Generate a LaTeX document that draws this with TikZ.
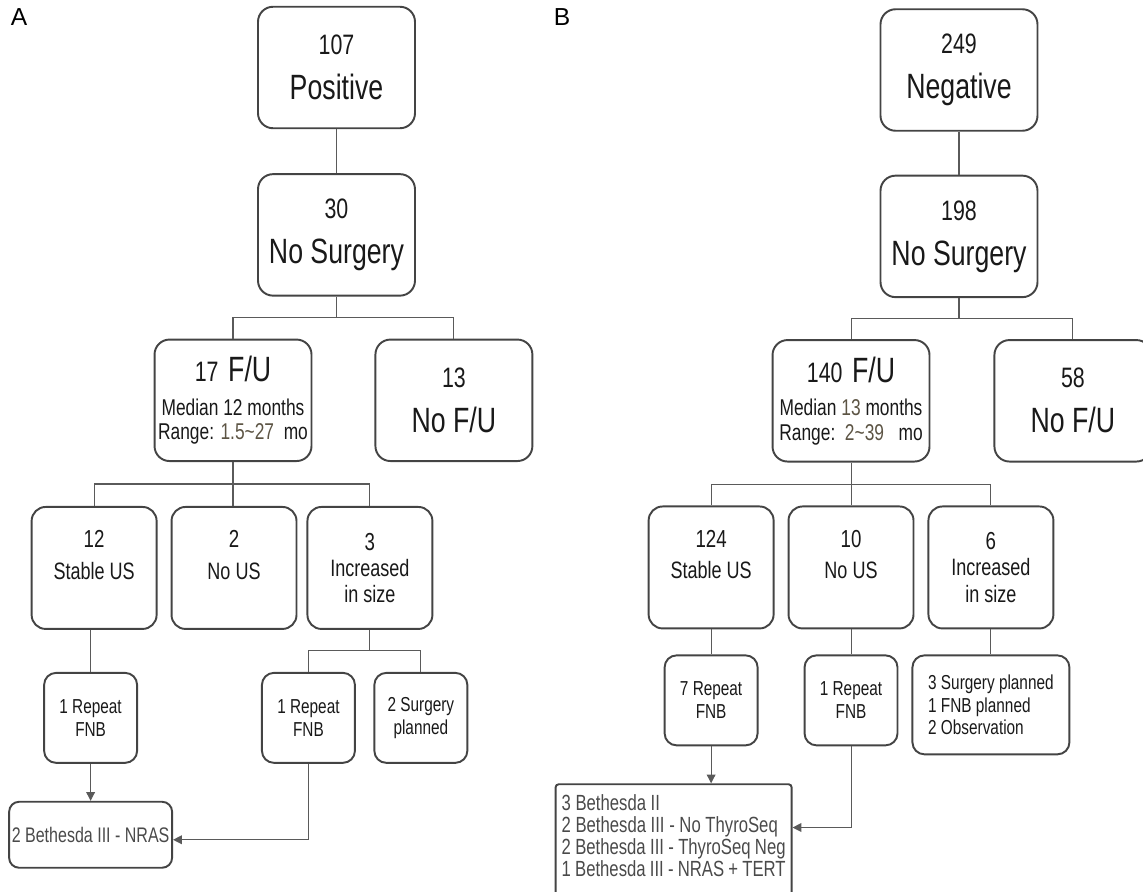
\documentclass[tikz,border=0pt]{standalone}
\usepackage{fontspec}
\setmainfont{Liberation Sans}[FakeStretch=0.76]
\newfontfamily\panelfont{Liberation Sans}
\usetikzlibrary{positioning,arrows.meta}

\definecolor{boxline}{HTML}{444444}
\definecolor{linkgray}{HTML}{5A5A5A}
\definecolor{rangetxt}{HTML}{5C5444}
\definecolor{bethtxt}{HTML}{4A4A4A}

\newcommand{\hugefs}{\fontsize{20}{25.6}\selectfont}
\newcommand{\numfs}{\fontsize{16}{25.6}\selectfont}
\newcommand{\midfs}{\fontsize{13}{14}\selectfont}
\newcommand{\rowfs}{\fontsize{13.5}{15}\selectfont}
\newcommand{\rownumfs}{\fontsize{14}{15}\selectfont}
\newcommand{\smallfs}{\fontsize{11.5}{13}\selectfont}
\newcommand{\bethfs}{\fontsize{12.5}{12.5}\selectfont}

\begin{document}
\begin{tikzpicture}[
    x=0.02cm, y=-0.02cm,
    node distance=0.88cm and 0.26cm,
    box/.style={draw=boxline, line width=1.1pt, rectangle, align=center, inner sep=0pt, text=black!90},
    bigbox/.style={box, rounded corners=0.3cm, minimum width=3.14cm, minimum height=2.43cm, font=\hugefs},
    fubox/.style={bigbox, font=\midfs},
    rowbox/.style={box, rounded corners=0.28cm, minimum width=2.5cm, minimum height=2.44cm, font=\rowfs},
    fnbbox/.style={box, rounded corners=0.24cm, minimum width=1.86cm, minimum height=1.8cm, font=\smallfs},
    listbox/.style={box, rounded corners=0.24cm, align=left, font=\smallfs},
    resultbox/.style={box, text=bethtxt, font=\bethfs},
    link/.style={draw=linkgray, line width=0.6pt},
    arrow/.style={link, -{Triangle[length=5pt,width=5pt]}},
    paneltitle/.style={font=\panelfont\fontsize{14}{14}\selectfont, inner sep=0pt}
]
    \useasboundingbox (0,0) rectangle (1143,892);

    % Panel A
    \node[paneltitle] (titleA) at (19,17) {A};
    \node[bigbox] (pos) at (336.5,67.5) {{\numfs 107}\\Positive};
    \node[bigbox, below=0.88cm of pos] (nosurgA) {{\numfs 30}\\No Surgery};
    \node[fubox, below=0.84cm of nosurgA, xshift=-2.07cm] (fuA) {{\numfs 17}\ \ {\hugefs F/U}\\[5pt]Median 12 months\\Range: {\color{rangetxt}1.5\textasciitilde 27}\ \ mo};
    \node[bigbox, right=1.24cm of fuA] (nofuA) {{\numfs 13}\\No F/U};

    \node[rowbox, below=0.88cm of fuA, xshift=0.02cm] (nousA) {{\rownumfs 2}\\[3pt]No US\\\mbox{}};
    \node[rowbox, left=0.26cm of nousA] (stableA) {{\rownumfs 12}\\[3pt]Stable US\\\mbox{}};
    \node[rowbox, right=0.18cm of nousA] (incA) {{\rownumfs 3}\\Increased\\in size};

    \node[fnbbox, below=0.84cm of stableA, xshift=-0.07cm] (fnbA) {1 Repeat\\FNB};
    \node[fnbbox, below=0.84cm of incA, xshift=-1.23cm] (fnbA2) {1 Repeat\\FNB};
    \node[fnbbox, right=0.35cm of fnbA2] (surgA) {2 Surgery\\planned};
    \node[resultbox, rounded corners=0.2cm, minimum width=3.26cm, minimum height=1.32cm, font=\fontsize{12}{12.5}\selectfont, below=0.74cm of fnbA] (bethA) {2 Bethesda III - NRAS};

    \draw[link] (pos) -- (nosurgA);
    \draw[link] (nosurgA.south) -- ++(0,21) -| (fuA.north);
    \draw[link] (nosurgA.south) ++(0,21) -| (nofuA.north);
    \draw[link] (fuA.south) -- ++(0,22) -| (stableA.north);
    \draw[link] (fuA.south) ++(0,22) -| (incA.north);
    \draw[link] (fuA.south) -- (fuA.south |- nousA.north);
    \draw[link] (fnbA.north |- stableA.south) -- (fnbA.north);
    \draw[arrow] (fnbA) -- (bethA);
    \draw[link] (incA.south) -- ++(0,21) -| (fnbA2.north);
    \draw[link] (incA.south) ++(0,21) -| (surgA.north);
    \draw[arrow] (fnbA2.south) |- ([yshift=-0.1cm]bethA.east);

    % Panel B
    \node[paneltitle] (titleB) at (562,17) {B};
    \node[bigbox] (neg) at (959,70) {{\numfs 249}\\Negative};
    \node[bigbox, below=0.86cm of neg] (nosurgB) {{\numfs 198}\\No Surgery};
    \node[fubox, below=0.82cm of nosurgB, xshift=-2.16cm] (fuB) {{\numfs 140}\ \ {\hugefs F/U}\\[5pt]Median {\color{rangetxt}13} months\\Range:\ \ {\color{rangetxt}2\textasciitilde 39}\ \ \ mo};
    \node[bigbox, right=1.26cm of fuB] (nofuB) {{\numfs 58}\\No F/U};

    \node[rowbox, below=0.86cm of fuB] (nousB) {{\rownumfs 10}\\[3pt]No US\\\mbox{}};
    \node[rowbox, left=0.26cm of nousB] (stableB) {{\rownumfs 124}\\[3pt]Stable US\\\mbox{}};
    \node[rowbox, right=0.26cm of nousB] (incB) {{\rownumfs 6}\\Increased\\in size};

    \node[fnbbox, below=0.5cm of stableB] (fnbB) {7 Repeat\\FNB};
    \node[fnbbox, below=0.5cm of nousB] (fnbB2) {1 Repeat\\FNB};
    \node[listbox, minimum width=3.14cm, minimum height=1.98cm, below=0.5cm of incB] (planB) {3 Surgery planned\\1 FNB planned\\2 Observation};
    \node[resultbox, rounded corners=0.06cm, align=flush left, text width=4.48cm, inner xsep=0.12cm, inner ysep=0.17cm, text height=0.35cm, text depth=1.8cm, below=0.74cm of fnbB, xshift=-0.75cm] (bethB) {3 Bethesda II\\2 Bethesda III - No ThyroSeq\\2 Bethesda III - ThyroSeq Neg\\1 Bethesda III - NRAS + TERT};

    \draw[link] (neg) -- (nosurgB);
    \draw[link] (nosurgB.south) -- ++(0,20) -| (fuB.north);
    \draw[link] (nosurgB.south) ++(0,20) -| (nofuB.north);
    \draw[link] (fuB.south) -- ++(0,22) -| (stableB.north);
    \draw[link] (fuB.south) ++(0,22) -| (incB.north);
    \draw[link] (fuB) -- (nousB);
    \draw[link] (stableB) -- (fnbB);
    \draw[link] (nousB) -- (fnbB2);
    \draw[link] (incB) -- (planB);
    \draw[arrow] (fnbB.south) -- (fnbB.south |- bethB.north);
    \draw[arrow] (fnbB2.south) |- ([yshift=0.38cm]bethB.east);

\end{tikzpicture}
\end{document}
